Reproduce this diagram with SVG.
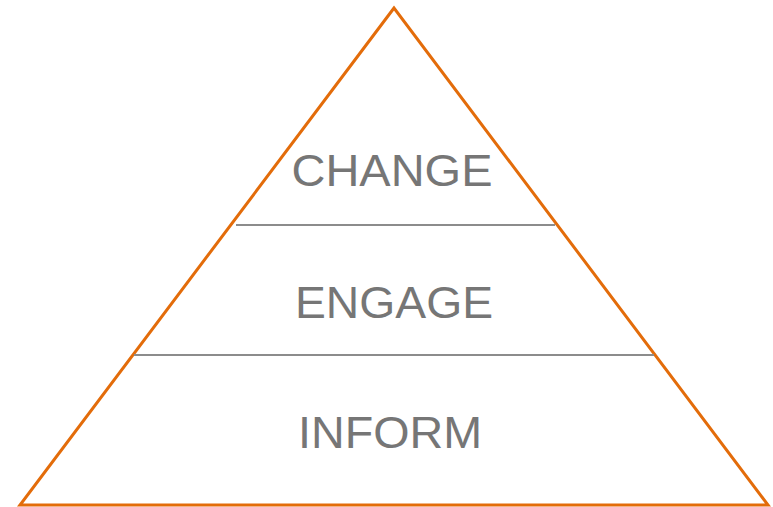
<svg xmlns="http://www.w3.org/2000/svg" width="773" height="507" viewBox="0 0 773 507">
<style>
.lbl{font-family:"Liberation Sans",Arial,sans-serif;font-size:45px;fill:#767676;text-anchor:middle}
.div{stroke:#8c8c8c;stroke-width:2}
</style>
<rect width="773" height="507" fill="#fff"/>
<g id="pyramid">
<polygon points="394,8 20,505 768,505" fill="none" stroke="#E36C0A" stroke-width="3" stroke-linejoin="miter"/>
</g>
<g id="connectors">
<line class="div" x1="236" y1="225" x2="555" y2="225"/>
<line class="div" x1="134" y1="355" x2="654" y2="355"/>
</g>
<g id="change"><text class="lbl" x="392" y="186" textLength="201" lengthAdjust="spacingAndGlyphs">CHANGE</text></g>
<g id="engage"><text class="lbl" x="394" y="318" textLength="198" lengthAdjust="spacingAndGlyphs">ENGAGE</text></g>
<g id="inform"><text class="lbl" x="390" y="448" textLength="184" lengthAdjust="spacingAndGlyphs">INFORM</text></g>
</svg>
